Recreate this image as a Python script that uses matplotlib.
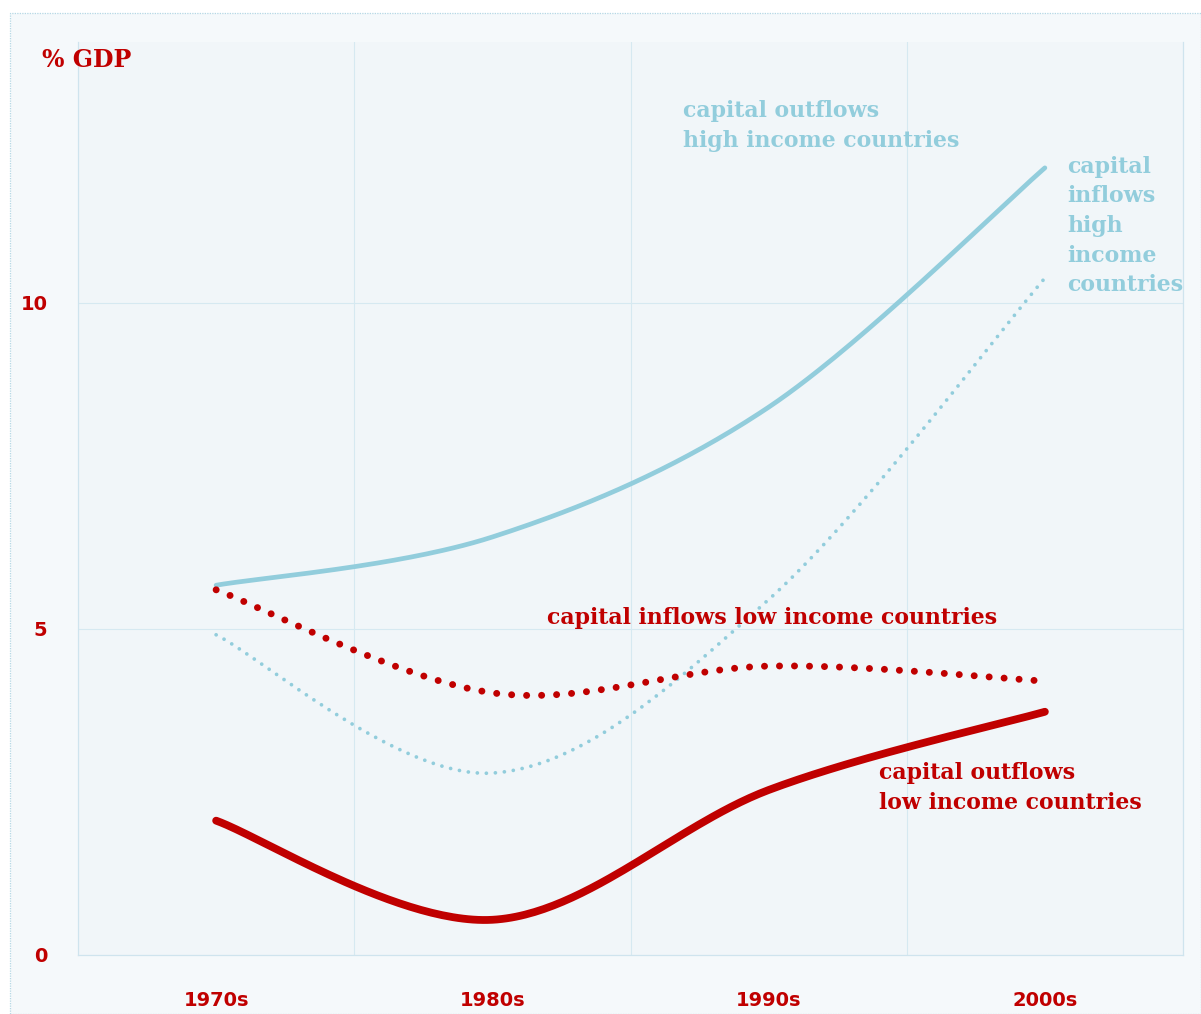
import numpy as np
import matplotlib
matplotlib.use("Agg")
import matplotlib.pyplot as plt
from matplotlib.patches import Rectangle

decades = ['1970s', '1980s', '1990s', '2000s']
outflows_high = [5.67, 6.41, 8.40, 12.07]
inflows_high = [4.91, 2.79, 5.45, 10.38]
inflows_low = [5.60, 4.02, 4.43, 4.20]
outflows_low = [2.06, 0.54, 2.53, 3.73]
y_ticks = [0, 5, 10]

RED = '#C00000'
BLUE = '#92CDDC'
GRID = '#D6E9F1'


def smooth(xs, ys, n=60):
    # Excel-style smoothed line: cubic Bezier with Catmull-Rom control points
    p = np.column_stack([xs, ys]).astype(float)
    ext = np.vstack([p[0], p, p[-1]])
    t = np.linspace(0, 1, n)[:, None]
    out = []
    for i in range(len(p) - 1):
        p0, p1, p2, p3 = ext[i], ext[i + 1], ext[i + 2], ext[i + 3]
        c1 = p1 + (p2 - p0) / 6
        c2 = p2 - (p3 - p1) / 6
        seg = ((1 - t) ** 3) * p1 + 3 * ((1 - t) ** 2) * t * c1 \
            + 3 * (1 - t) * t ** 2 * c2 + t ** 3 * p2
        out.append(seg if i == 0 else seg[1:])
    out = np.vstack(out)
    return out[:, 0], out[:, 1]


W, H = 1201, 1014
fig = plt.figure(figsize=(W / 100, H / 100), dpi=100, facecolor='white')
frame = Rectangle((10 / W, 0), 1 - 10 / W, 1 - 13 / H,
                  transform=fig.transFigure, facecolor='#F5F9FB',
                  edgecolor='#B5D8E5', lw=0.9, ls=(0, (1, 1)), zorder=-5)
fig.patches.append(frame)

ax = fig.add_axes([78 / W, (H - 955) / H, 1105 / W, 913 / H])
ax.set_zorder(1)
ax.set_facecolor('#F1F6F9')
ax.set_xlim(0, 4)
ax.set_ylim(0, 14)

for v in [1, 2, 3]:
    ax.axvline(v, color=GRID, lw=0.8, zorder=1)
for v in [5, 10]:
    ax.axhline(v, color=GRID, lw=0.8, zorder=1)
for side in ['left', 'bottom', 'right']:
    ax.spines[side].set_color('#CFE4EE')
    ax.spines[side].set_linewidth(0.9)
ax.spines['top'].set_visible(False)

xs = np.arange(len(decades)) + 0.5

x, y = smooth(xs, outflows_high)
ax.plot(x, y, color=BLUE, lw=3.4, solid_capstyle='round', zorder=3)
x, y = smooth(xs, inflows_high)
ax.plot(x, y, color=BLUE, lw=2.7, dashes=(0.01, 2.4),
        dash_capstyle='round', zorder=3)
x, y = smooth(xs, inflows_low)
ax.plot(x, y, color=RED, lw=5.0, dashes=(0.01, 2.15),
        dash_capstyle='round', zorder=4)
x, y = smooth(xs, outflows_low)
ax.plot(x, y, color=RED, lw=5.6, solid_capstyle='round', zorder=4)

ax.set_xticks(xs)
ax.set_xticklabels(decades)
ax.set_yticks(y_ticks)
ax.tick_params(length=0, labelcolor=RED, labelsize=14)
ax.tick_params(axis='x', pad=26)
ax.tick_params(axis='y', pad=22)
for lab in ax.get_xticklabels() + ax.get_yticklabels():
    lab.set_fontfamily(['Liberation Sans Narrow', 'DejaVu Sans'])
    lab.set_fontweight('bold')

serif = dict(family=['DejaVu Serif'], fontweight='bold',
             linespacing=1.45, transform=fig.transFigure, va='center',
             zorder=5)


def fig_text(px, py, s, color, size=15.8):
    fig.text(px / W, 1 - py / H, s, color=color, ha='left', fontsize=size,
             **serif)


fig_text(42, 60, '% GDP', RED, size=17)
fig_text(683, 126, 'capital outflows\nhigh income countries', BLUE)
fig_text(1067, 226, 'capital\ninflows\nhigh\nincome\ncountries', BLUE)
fig_text(547, 618, 'capital inflows low income countries', RED)
fig_text(879, 788, 'capital outflows\nlow income countries', RED)

fig.savefig('out.png', dpi=100, facecolor='white')
